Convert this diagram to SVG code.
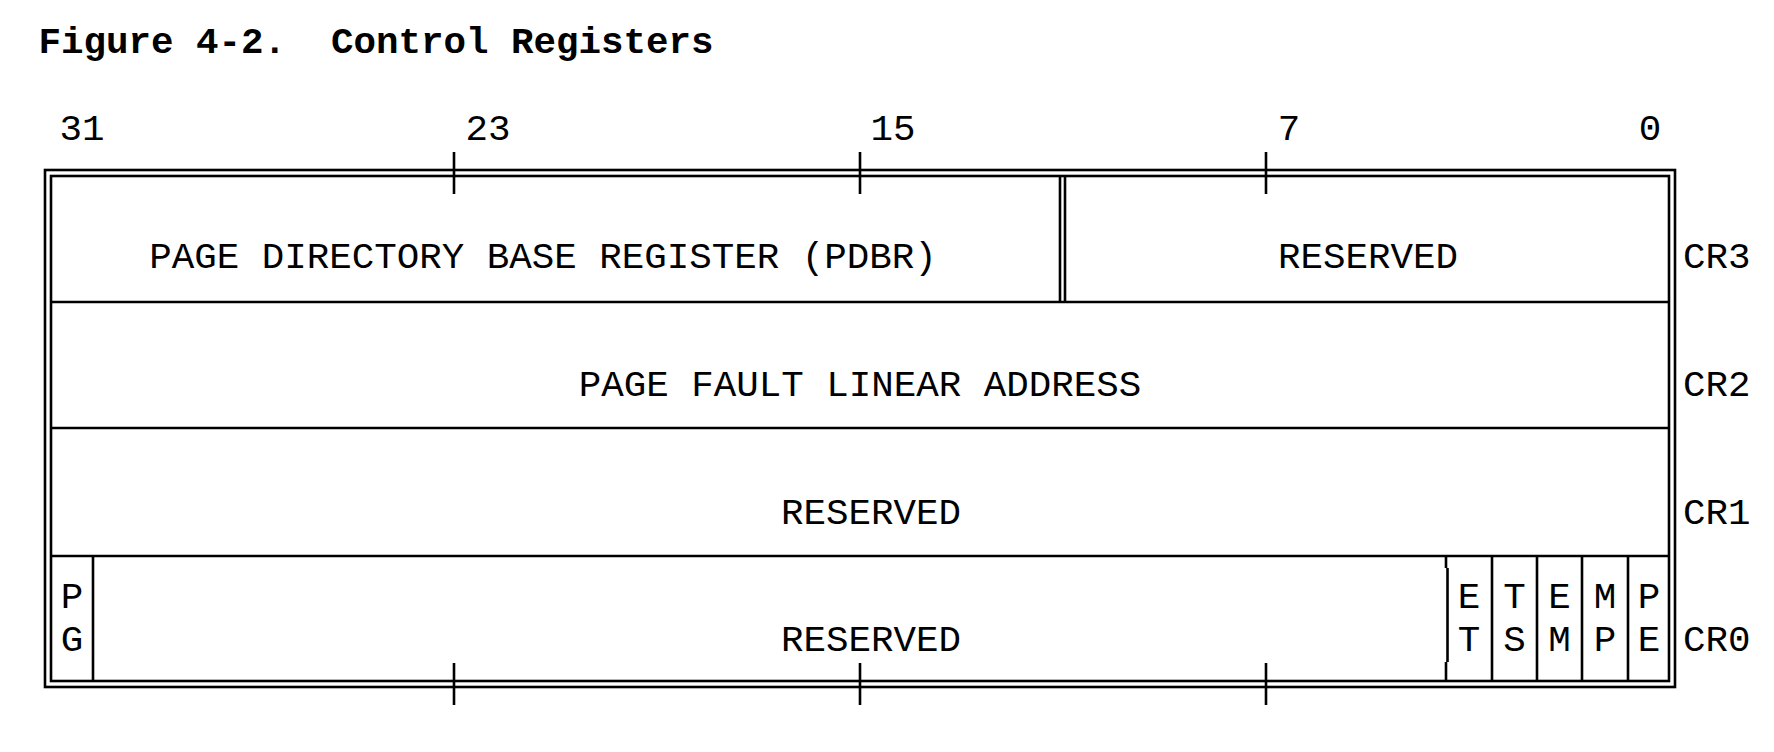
<svg xmlns="http://www.w3.org/2000/svg" width="1774" height="752" viewBox="0 0 1774 752">
<style>
.ln{stroke:#000;stroke-width:2.6;fill:none}
.t{font-family:"Liberation Mono","Courier New",monospace;font-size:37.5px;fill:#000;text-anchor:middle}
.b{font-weight:bold}
.l{text-anchor:start}
</style>
<rect width="1774" height="752" fill="#fff"/>
<text id="title" class="t b" x="376" y="53" xml:space="preserve">Figure 4-2.  Control Registers</text>
<g id="bit-numbers">
<text class="t" x="82" y="140">31</text>
<text class="t" x="488" y="140">23</text>
<text class="t" x="893" y="140">15</text>
<text class="t" x="1289" y="140">7</text>
<text class="t" x="1650" y="140">0</text>
</g>
<g id="frame">
<rect class="ln" x="45" y="170" width="1630" height="517"/>
<rect class="ln" x="51" y="176" width="1618" height="505"/>
<path class="ln" d="M454 152V194M860 152V194M1266 152V194M454 663V705M860 663V705M1266 663V705"/>
</g>
<g id="cr3">
<path class="ln" d="M1060 176V302M1065 176V302"/>
<text class="t" x="543" y="268">PAGE DIRECTORY BASE REGISTER (PDBR)</text>
<text class="t" x="1368" y="268">RESERVED</text>
<text class="t l" x="1683" y="268">CR3</text>
</g>
<g id="cr2">
<path class="ln" d="M51 302H1669"/>
<text class="t" x="860" y="396">PAGE FAULT LINEAR ADDRESS</text>
<text class="t l" x="1683" y="396">CR2</text>
</g>
<g id="cr1">
<path class="ln" d="M51 428H1669"/>
<text class="t" x="871" y="524">RESERVED</text>
<text class="t l" x="1683" y="524">CR1</text>
</g>
<g id="cr0">
<path class="ln" d="M51 556H1669M93 556V681M1446 556V568M1447.5 568V662M1446 662V681M1492 556V681M1537 556V681M1582 556V681M1628 556V681"/>
<text class="t" x="72" y="608">P</text><text class="t" x="72" y="651">G</text>
<text class="t" x="871" y="651">RESERVED</text>
<text class="t" x="1469" y="608">E</text><text class="t" x="1469" y="651">T</text>
<text class="t" x="1514.5" y="608">T</text><text class="t" x="1514.5" y="651">S</text>
<text class="t" x="1559.5" y="608">E</text><text class="t" x="1559.5" y="651">M</text>
<text class="t" x="1605" y="608">M</text><text class="t" x="1605" y="651">P</text>
<text class="t" x="1649" y="608">P</text><text class="t" x="1649" y="651">E</text>
<text class="t l" x="1683" y="651">CR0</text>
</g>
</svg>
